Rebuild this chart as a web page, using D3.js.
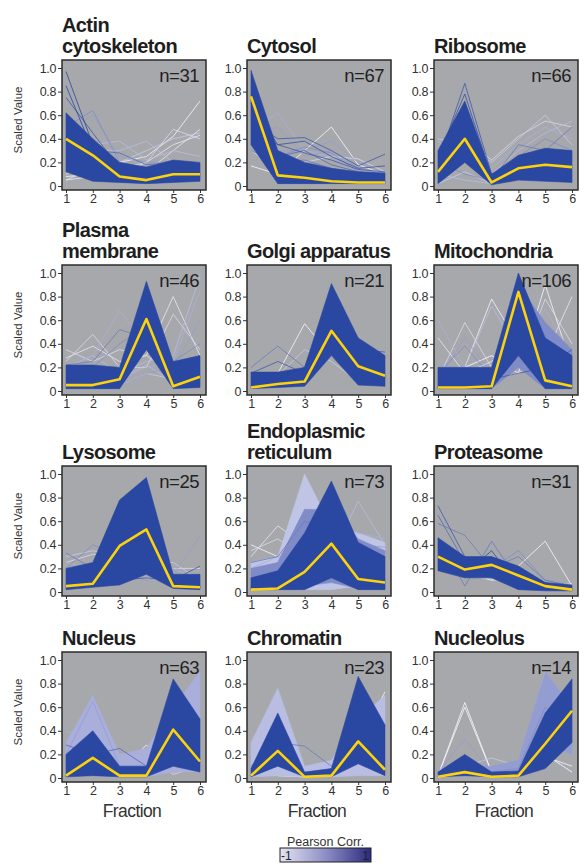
<!DOCTYPE html>
<html>
<head>
<meta charset="utf-8">
<script src="https://cdn.jsdelivr.net/npm/d3@7"></script>
<style>
    body { margin: 0; background: #fff; }
    svg text { font-family: "Liberation Sans", Arial, Helvetica, sans-serif; }
    .panel-title { font-size: 20px; font-weight: bold; letter-spacing: -0.6px; fill: #1e1e1e; }
    .n-label { font-size: 18.5px; letter-spacing: -0.5px; fill: #222; }
    .axis text { font-size: 12.5px; letter-spacing: -0.4px; fill: #333; }
    .axis line { stroke: #333; }
    .y-title { font-size: 11.5px; fill: #333; }
    .x-title { font-size: 17.5px; letter-spacing: -0.6px; fill: #333; }
    .legend-title { font-size: 12.5px; fill: #333; }
    .legend-tick { font-size: 12px; fill: #222; }
</style>
</head>
<body>
<div id="chart"></div>
<script>

// ---- data ----
const fractions = [1, 2, 3, 4, 5, 6];
const yTicks = [0, 0.2, 0.4, 0.6, 0.8, 1.0];

const titles = [
    ["Actin", "cytoskeleton"], ["Cytosol"], ["Ribosome"],
    ["Plasma", "membrane"], ["Golgi apparatus"], ["Mitochondria"],
    ["Lysosome"], ["Endoplasmic", "reticulum"], ["Proteasome"],
    ["Nucleus"], ["Chromatin"], ["Nucleolus"]
];

const markerCounts = [31, 67, 66, 46, 21, 106, 25, 73, 31, 63, 23, 14];

// yellow average profile per compartment
const meanProfiles = [
    [0.40, 0.26, 0.08, 0.05, 0.10, 0.10],
    [0.76, 0.09, 0.07, 0.04, 0.03, 0.03],
    [0.12, 0.40, 0.03, 0.15, 0.18, 0.16],
    [0.05, 0.05, 0.10, 0.61, 0.04, 0.12],
    [0.03, 0.06, 0.08, 0.51, 0.21, 0.13],
    [0.03, 0.03, 0.04, 0.84, 0.09, 0.04],
    [0.05, 0.07, 0.39, 0.53, 0.05, 0.04],
    [0.02, 0.03, 0.17, 0.41, 0.11, 0.08],
    [0.30, 0.19, 0.23, 0.14, 0.05, 0.02],
    [0.02, 0.17, 0.02, 0.02, 0.41, 0.14],
    [0.02, 0.23, 0.01, 0.02, 0.31, 0.07],
    [0.01, 0.05, 0.01, 0.02, 0.29, 0.57]
];

// dense bundles of proteins: pearson r, upper and lower edge per fraction
const bundles = [
    [{r: 0.9, hi: [0.62, 0.40, 0.20, 0.16, 0.22, 0.20], lo: [0.12, 0.04, 0.03, 0.02, 0.03, 0.04]}],
    [{r: 0.9, hi: [0.98, 0.30, 0.20, 0.15, 0.12, 0.11], lo: [0.35, 0.02, 0.02, 0.02, 0.02, 0.02]}],
    [{r: 0.9, hi: [0.30, 0.72, 0.10, 0.26, 0.32, 0.30], lo: [0.02, 0.20, 0.01, 0.05, 0.04, 0.03]}],
    [{r: 0.9, hi: [0.22, 0.22, 0.20, 0.93, 0.25, 0.30], lo: [0.02, 0.02, 0.02, 0.35, 0.02, 0.03]}],
    [{r: 0.9, hi: [0.16, 0.16, 0.20, 0.91, 0.45, 0.30], lo: [0.02, 0.03, 0.04, 0.30, 0.05, 0.04]}],
    [{r: 0.5, hi: [0.20, 0.20, 0.20, 0.90, 0.58, 0.35], lo: [0.02, 0.02, 0.02, 0.20, 0.02, 0.02]},
     {r: 0.9, hi: [0.20, 0.20, 0.20, 1.00, 0.45, 0.30], lo: [0.02, 0.02, 0.02, 0.30, 0.02, 0.02]}],
    [{r: 0.9, hi: [0.20, 0.25, 0.78, 0.97, 0.15, 0.15], lo: [0.02, 0.04, 0.06, 0.15, 0.03, 0.02]}],
    [{r: 0.15, hi: [0.25, 0.30, 1.00, 0.55, 0.50, 0.42], lo: [0.05, 0.05, 0.02, 0.02, 0.05, 0.05]},
     {r: 0.5, hi: [0.20, 0.25, 0.70, 0.70, 0.45, 0.35], lo: [0.03, 0.03, 0.05, 0.08, 0.03, 0.03]},
     {r: 0.9, hi: [0.12, 0.18, 0.50, 0.94, 0.42, 0.30], lo: [0.02, 0.02, 0.02, 0.12, 0.02, 0.02]}],
    [{r: 0.9, hi: [0.46, 0.30, 0.30, 0.22, 0.08, 0.06], lo: [0.18, 0.12, 0.12, 0.02, 0.01, 0.01]}],
    [{r: 0.3, hi: [0.30, 0.70, 0.20, 0.25, 0.60, 0.90], lo: [0.02, 0.02, 0.01, 0.01, 0.05, 0.05]},
     {r: 0.9, hi: [0.20, 0.40, 0.10, 0.10, 0.84, 0.50], lo: [0.01, 0.02, 0.01, 0.01, 0.10, 0.05]}],
    [{r: 0.2, hi: [0.30, 0.76, 0.10, 0.15, 0.50, 0.70], lo: [0.01, 0.02, 0.01, 0.01, 0.02, 0.02]},
     {r: 0.9, hi: [0.08, 0.55, 0.05, 0.08, 0.86, 0.45], lo: [0.01, 0.10, 0.01, 0.01, 0.12, 0.02]}],
    [{r: 0.4, hi: [0.05, 0.10, 0.10, 0.15, 0.90, 0.60], lo: [0.01, 0.02, 0.01, 0.01, 0.30, 0.20]},
     {r: 0.9, hi: [0.05, 0.20, 0.05, 0.06, 0.55, 0.84], lo: [0.01, 0.02, 0.01, 0.01, 0.08, 0.30]}]
];

// single protein profiles that stand out of the bundles: [pearson r, values]
const profiles = [
    [[0.9, [0.97, 0.35, 0.10, 0.08, 0.10, 0.08]], [0.9, [0.85, 0.30, 0.12, 0.10, 0.12, 0.10]],
     [0.8, [0.75, 0.45, 0.15, 0.12, 0.15, 0.12]], [0.5, [0.50, 0.64, 0.20, 0.15, 0.15, 0.12]],
     [0.4, [0.45, 0.60, 0.25, 0.20, 0.20, 0.15]], [0.2, [0.30, 0.35, 0.38, 0.22, 0.30, 0.25]],
     [0.2, [0.20, 0.30, 0.30, 0.38, 0.20, 0.20]], [0.0, [0.10, 0.20, 0.15, 0.20, 0.48, 0.40]],
     [-0.1, [0.05, 0.15, 0.10, 0.20, 0.35, 0.43]], [-0.2, [0.08, 0.10, 0.20, 0.25, 0.42, 0.72]],
     [0.1, [0.20, 0.25, 0.20, 0.30, 0.40, 0.45]], [-0.1, [0.05, 0.08, 0.10, 0.12, 0.30, 0.48]],
     [0.3, [0.15, 0.20, 0.05, 0.05, 0.10, 0.10]], [0.7, [0.55, 0.30, 0.28, 0.18, 0.20, 0.15]]],
    [[0.8, [0.55, 0.40, 0.41, 0.30, 0.17, 0.27]], [0.85, [0.50, 0.35, 0.38, 0.25, 0.15, 0.17]],
     [0.3, [0.45, 0.62, 0.30, 0.25, 0.12, 0.10]], [0.4, [0.42, 0.50, 0.25, 0.30, 0.15, 0.10]],
     [0.4, [0.35, 0.30, 0.30, 0.38, 0.20, 0.10]], [-0.2, [0.17, 0.10, 0.30, 0.50, 0.18, 0.10]],
     [0.0, [0.30, 0.15, 0.20, 0.25, 0.23, 0.12]], [0.5, [0.40, 0.25, 0.33, 0.28, 0.12, 0.10]],
     [0.6, [0.30, 0.20, 0.22, 0.15, 0.10, 0.08]], [0.8, [0.70, 0.35, 0.28, 0.22, 0.14, 0.12]],
     [0.7, [0.60, 0.25, 0.30, 0.18, 0.12, 0.10]]],
    [[0.8, [0.20, 0.87, 0.10, 0.20, 0.25, 0.20]], [0.85, [0.25, 0.78, 0.08, 0.22, 0.30, 0.25]],
     [0.1, [0.40, 0.35, 0.20, 0.40, 0.60, 0.35]], [0.3, [0.35, 0.30, 0.15, 0.35, 0.50, 0.40]],
     [0.2, [0.38, 0.20, 0.10, 0.30, 0.45, 0.55]], [0.0, [0.30, 0.40, 0.22, 0.42, 0.55, 0.50]],
     [0.2, [0.10, 0.05, 0.02, 0.10, 0.15, 0.10]], [0.5, [0.20, 0.10, 0.05, 0.25, 0.40, 0.30]],
     [0.6, [0.15, 0.50, 0.05, 0.35, 0.30, 0.50]], [0.1, [0.02, 0.12, 0.02, 0.08, 0.06, 0.05]]],
    [[0.6, [0.22, 0.25, 0.52, 0.45, 0.20, 0.30]], [0.3, [0.20, 0.30, 0.68, 0.40, 0.15, 0.25]],
     [0.0, [0.35, 0.25, 0.35, 0.30, 0.15, 0.20]], [-0.1, [0.28, 0.38, 0.25, 0.30, 0.80, 0.30]],
     [0.0, [0.25, 0.48, 0.20, 0.20, 0.65, 0.35]], [0.2, [0.20, 0.30, 0.15, 0.25, 0.30, 0.97]],
     [0.3, [0.15, 0.20, 0.10, 0.20, 0.25, 0.85]], [0.4, [0.10, 0.15, 0.05, 0.15, 0.20, 0.60]],
     [0.1, [0.05, 0.05, 0.05, 0.15, 0.10, 0.10]], [0.2, [0.10, 0.08, 0.10, 0.22, 0.08, 0.05]],
     [0.5, [0.15, 0.20, 0.40, 0.55, 0.25, 0.40]]],
    [[0.6, [0.20, 0.38, 0.20, 0.45, 0.40, 0.28]], [0.8, [0.15, 0.25, 0.15, 0.50, 0.35, 0.33]],
     [-0.2, [0.10, 0.15, 0.57, 0.30, 0.10, 0.10]], [0.1, [0.12, 0.13, 0.35, 0.25, 0.08, 0.10]],
     [0.9, [0.08, 0.10, 0.20, 0.80, 0.30, 0.20]], [0.5, [0.05, 0.08, 0.12, 0.35, 0.12, 0.08]]],
    [[0.3, [0.60, 0.20, 0.15, 0.50, 0.10, 0.20]], [-0.1, [0.45, 0.15, 0.25, 0.45, 0.20, 0.10]],
     [0.0, [0.10, 0.58, 0.20, 0.50, 0.30, 0.20]], [0.4, [0.10, 0.45, 0.15, 0.40, 0.25, 0.20]],
     [0.5, [0.15, 0.38, 0.12, 0.60, 0.30, 0.25]], [-0.2, [0.10, 0.20, 0.78, 0.40, 0.30, 0.20]],
     [0.2, [0.10, 0.20, 0.72, 0.35, 0.40, 0.30]], [-0.2, [0.15, 0.20, 0.30, 0.15, 0.90, 0.20]],
     [0.0, [0.10, 0.10, 0.20, 0.20, 0.78, 0.40]], [0.3, [0.10, 0.15, 0.15, 0.25, 0.70, 0.30]],
     [-0.1, [0.10, 0.10, 0.10, 0.15, 0.30, 0.80]], [0.8, [0.05, 0.10, 0.10, 0.15, 0.20, 0.35]],
     [0.0, [0.10, 0.20, 0.30, 0.20, 0.15, 0.10]]],
    [[0.6, [0.33, 0.20, 0.40, 0.35, 0.10, 0.05]], [0.1, [0.30, 0.35, 0.30, 0.25, 0.25, 0.10]],
     [0.0, [0.25, 0.32, 0.28, 0.20, 0.20, 0.20]], [0.5, [0.20, 0.40, 0.30, 0.35, 0.10, 0.05]],
     [0.4, [0.10, 0.15, 0.15, 0.10, 0.15, 0.47]], [0.8, [0.05, 0.10, 0.10, 0.12, 0.10, 0.22]],
     [0.2, [0.15, 0.20, 0.35, 0.12, 0.10, 0.08]], [0.3, [0.25, 0.20, 0.45, 0.20, 0.20, 0.10]]],
    [[-0.2, [0.40, 0.30, 0.45, 0.40, 0.30, 0.35]], [-0.1, [0.30, 0.56, 0.40, 0.35, 0.30, 0.30]],
     [0.0, [0.35, 0.45, 0.30, 0.45, 0.25, 0.30]], [0.2, [0.25, 0.30, 0.20, 0.30, 0.77, 0.40]],
     [0.3, [0.20, 0.30, 0.25, 0.30, 0.50, 0.45]], [0.6, [0.25, 0.30, 0.60, 0.50, 0.35, 0.30]],
     [0.4, [0.10, 0.25, 0.70, 0.50, 0.40, 0.38]], [0.0, [0.15, 0.20, 0.30, 0.20, 0.10, 0.05]]],
    [[0.8, [0.73, 0.30, 0.20, 0.15, 0.05, 0.02]], [0.7, [0.65, 0.25, 0.25, 0.20, 0.08, 0.03]],
     [0.6, [0.58, 0.48, 0.20, 0.30, 0.10, 0.05]], [0.6, [0.45, 0.05, 0.43, 0.10, 0.05, 0.02]],
     [0.5, [0.35, 0.30, 0.20, 0.35, 0.10, 0.05]], [-0.3, [0.25, 0.20, 0.10, 0.22, 0.43, 0.05]],
     [0.0, [0.20, 0.15, 0.10, 0.10, 0.05, 0.07]], [0.9, [0.40, 0.15, 0.35, 0.05, 0.02, 0.02]]],
    [[0.7, [0.28, 0.20, 0.25, 0.10, 0.30, 0.40]], [0.3, [0.40, 0.30, 0.15, 0.25, 0.20, 0.30]],
     [-0.2, [0.10, 0.25, 0.05, 0.28, 0.05, 0.10]], [0.0, [0.05, 0.20, 0.10, 0.20, 0.03, 0.10]],
     [0.4, [0.20, 0.65, 0.10, 0.10, 0.30, 0.20]], [0.2, [0.15, 0.10, 0.10, 0.05, 0.50, 0.85]]],
    [[0.6, [0.10, 0.30, 0.27, 0.10, 0.30, 0.20]], [-0.2, [0.05, 0.02, 0.01, 0.02, 0.30, 0.73]],
     [-0.1, [0.05, 0.05, 0.02, 0.05, 0.25, 0.65]], [0.1, [0.30, 0.40, 0.05, 0.12, 0.20, 0.35]],
     [0.0, [0.02, 0.02, 0.01, 0.01, 0.05, 0.05]], [0.1, [0.05, 0.10, 0.05, 0.10, 0.10, 0.55]]],
    [[-0.3, [0.02, 0.64, 0.05, 0.05, 0.20, 0.05]], [-0.2, [0.02, 0.60, 0.05, 0.04, 0.18, 0.10]],
     [0.4, [0.05, 0.33, 0.05, 0.05, 0.50, 0.30]], [0.1, [0.05, 0.10, 0.17, 0.10, 0.90, 0.20]],
     [0.2, [0.02, 0.05, 0.05, 0.10, 0.85, 0.30]], [0.3, [0.02, 0.10, 0.05, 0.15, 0.70, 0.30]],
     [0.5, [0.05, 0.05, 0.05, 0.08, 0.60, 0.45]], [0.0, [0.03, 0.08, 0.05, 0.10, 0.20, 0.05]],
     [0.3, [0.02, 0.02, 0.02, 0.05, 0.40, 0.20]]]
];

// ---- layout ----
const colLeft = [62, 247, 434];
const rowTop = [60, 265, 466, 652];
const panelWidth = 144;
const panelHeight = 130;

const corrColor = d3.scaleLinear()
    .domain([-0.2, 0.3, 0.9])
    .range(["#f7f7fc", "#a9aedb", "#2a47a1"])
    .clamp(true);

class ProfilePanel {

    constructor(svg, index) {
        this.svg = svg;
        this.index = index;

        this.initVis();
    }

    initVis() {
        let vis = this;

        vis.col = vis.index % 3;
        vis.row = Math.floor(vis.index / 3);
        vis.width = panelWidth;
        vis.height = panelHeight;

        vis.g = vis.svg.append("g")
            .attr("transform", `translate(${colLeft[vis.col]}, ${rowTop[vis.row]})`);

        vis.x = d3.scaleLinear().domain([1, 6]).range([4, vis.width - 6]);
        vis.y = d3.scaleLinear().domain([0, 1]).range([vis.height - 4, 8]);

        vis.g.append("clipPath")
            .attr("id", "clip-" + vis.index)
            .append("rect")
            .attr("width", vis.width)
            .attr("height", vis.height);

        vis.g.append("rect")
            .attr("width", vis.width)
            .attr("height", vis.height)
            .attr("fill", "#a7a8ab");

        vis.plot = vis.g.append("g")
            .attr("clip-path", `url(#clip-${vis.index})`);

        // axes
        vis.g.append("g")
            .attr("class", "axis")
            .call(d3.axisLeft(vis.y)
                .tickValues(yTicks)
                .tickSize(4)
                .tickPadding(2)
                .tickFormat(d => d === 0 ? "0" : d3.format(".1f")(d)))
            .call(g => g.select(".domain").remove());

        vis.g.append("g")
            .attr("class", "axis")
            .attr("transform", `translate(0, ${vis.height})`)
            .call(d3.axisBottom(vis.x)
                .tickValues(fractions)
                .tickSize(3)
                .tickPadding(1)
                .tickFormat(d3.format("d")))
            .call(g => g.select(".domain").remove());

        // title (one or two lines)
        let lines = titles[vis.index];
        vis.g.selectAll(".panel-title")
            .data(lines)
            .enter().append("text")
            .attr("class", "panel-title")
            .attr("x", 0)
            .attr("y", (d, i) => -7 - (lines.length - 1 - i) * 21)
            .text(d => d);

        vis.g.append("text")
            .attr("class", "n-label")
            .attr("x", vis.width - 7)
            .attr("y", 22)
            .attr("text-anchor", "end")
            .text("n=" + markerCounts[vis.index]);

        if (vis.col === 0) {
            vis.g.append("text")
                .attr("class", "y-title")
                .attr("transform", `translate(${22 - colLeft[0]}, ${vis.height / 2 - 5}) rotate(-90)`)
                .attr("text-anchor", "middle")
                .text("Scaled Value");
        }
        if (vis.row === 3) {
            vis.g.append("text")
                .attr("class", "x-title")
                .attr("x", vis.width / 2 - 2)
                .attr("y", vis.height + 35)
                .attr("text-anchor", "middle")
                .text("Fraction");
        }

        vis.wrangleData();
    }

    wrangleData() {
        let vis = this;

        // bundles and single profiles share one drawing order: low correlation first
        vis.displayData = bundles[vis.index]
            .map(b => ({type: "band", r: b.r, hi: b.hi, lo: b.lo}))
            .concat(profiles[vis.index].map(p => ({type: "line", r: p[0], values: p[1]})))
            .sort((a, b) => a.r - b.r);

        vis.updateVis();
    }

    updateVis() {
        let vis = this;

        let line = d3.line()
            .x((d, i) => vis.x(fractions[i]))
            .y(d => vis.y(d));

        let area = d3.area()
            .x(d => vis.x(d.f))
            .y0(d => vis.y(d.lo))
            .y1(d => vis.y(d.hi));

        vis.plot.selectAll(".profile")
            .data(vis.displayData)
            .enter().append("path")
            .attr("class", "profile")
            .attr("d", function (d) {
                if (d.type === "band") {
                    return area(fractions.map((f, i) => ({f: f, hi: d.hi[i], lo: d.lo[i]})));
                }
                return line(d.values);
            })
            .attr("fill", d => d.type === "band" ? corrColor(d.r) : "none")
            .attr("stroke", d => corrColor(d.r))
            .attr("stroke-width", d => d.type === "band" ? 0.6 : 0.8)
            .attr("stroke-linejoin", "round");

        vis.plot.append("path")
            .attr("d", line(meanProfiles[vis.index]))
            .attr("fill", "none")
            .attr("stroke", "#fcd20c")
            .attr("stroke-width", 2.6)
            .attr("stroke-linejoin", "round");

        vis.g.append("rect")
            .attr("width", vis.width)
            .attr("height", vis.height)
            .attr("fill", "none")
            .attr("stroke", "#2b2b2b")
            .attr("stroke-width", 1.5);
    }
}

const svg = d3.select("#chart").append("svg")
    .attr("width", 585)
    .attr("height", 864);

titles.forEach((t, i) => new ProfilePanel(svg, i));

// legend
const legendX = d3.scaleLinear().domain([-1, 1]).range([280, 371]);

let grad = svg.append("defs").append("linearGradient")
    .attr("id", "corr-grad");
grad.append("stop").attr("offset", "0%").attr("stop-color", "#e4e4f2");
grad.append("stop").attr("offset", "50%").attr("stop-color", "#8e8ec6");
grad.append("stop").attr("offset", "100%").attr("stop-color", "#2b2b80");

svg.append("text")
    .attr("class", "legend-title")
    .attr("x", (legendX(-1) + legendX(1)) / 2)
    .attr("y", 846)
    .attr("text-anchor", "middle")
    .text("Pearson Corr.");

svg.append("rect")
    .attr("x", legendX(-1))
    .attr("y", 848)
    .attr("width", legendX(1) - legendX(-1))
    .attr("height", 14)
    .attr("fill", "url(#corr-grad)")
    .attr("stroke", "#222")
    .attr("stroke-width", 1);

svg.append("text")
    .attr("class", "legend-tick")
    .attr("x", legendX(-1) + 1)
    .attr("y", 859.5)
    .text("-1");

svg.append("text")
    .attr("class", "legend-tick")
    .attr("x", legendX(1) - 2)
    .attr("y", 859.5)
    .attr("text-anchor", "end")
    .text("1");

</script>
</body>
</html>
